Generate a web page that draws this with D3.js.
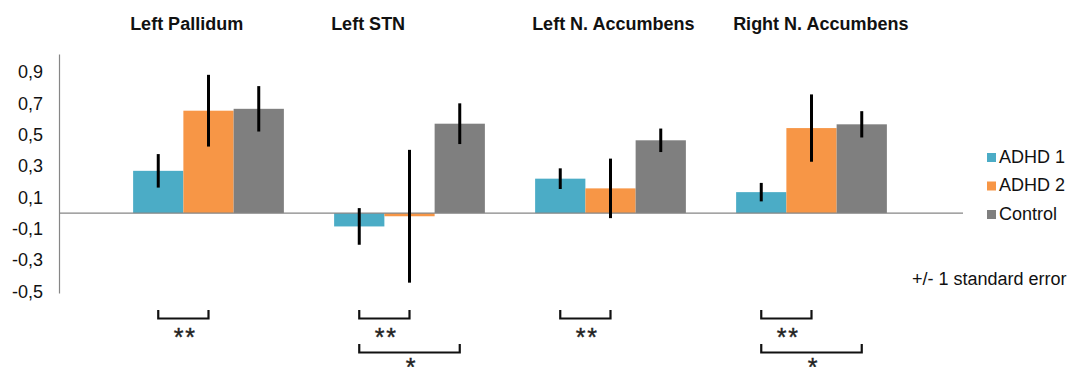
<!DOCTYPE html>
<html>
<head>
<meta charset="utf-8">
<script src="https://cdn.jsdelivr.net/npm/d3@7"></script>
<style>
  body { margin: 0; background: #fff; }
  svg { display: block; font-family: "Liberation Sans", Arial, sans-serif; }
</style>
</head>
<body>
<svg id="chart" width="1070" height="367"></svg>
<script>
// data
var regions = ["Left Pallidum", "Left STN", "Left N. Accumbens", "Right N. Accumbens"];
var groups = ["ADHD 1", "ADHD 2", "Control"];
var adhd1 = [0.27, -0.085, 0.22, 0.134];
var adhd2 = [0.654, -0.02, 0.158, 0.543];
var control = [0.666, 0.571, 0.465, 0.567];
var adhd1Se = [0.107, 0.117, 0.066, 0.059];
var adhd2Se = [0.229, 0.424, 0.19, 0.215];
var controlSe = [0.145, 0.13, 0.075, 0.084];
var yTicks = [-0.5, -0.3, -0.1, 0.1, 0.3, 0.5, 0.7, 0.9];
// significance brackets: region, from group, to group, stars, row
var sigRegion = ["Left Pallidum", "Left STN", "Left STN", "Left N. Accumbens", "Right N. Accumbens", "Right N. Accumbens"];
var sigFrom = ["ADHD 1", "ADHD 1", "ADHD 1", "ADHD 1", "ADHD 1", "ADHD 1"];
var sigTo = ["ADHD 2", "ADHD 2", "Control", "ADHD 2", "ADHD 2", "Control"];
var sigLabel = ["**", "**", "*", "**", "**", "*"];
var sigRow = [0, 0, 1, 0, 0, 1];

var colors = {"ADHD 1": "#4BACC6", "ADHD 2": "#F79646", "Control": "#7F7F7F"};
var values = {"ADHD 1": adhd1, "ADHD 2": adhd2, "Control": control};
var errors = {"ADHD 1": adhd1Se, "ADHD 2": adhd2Se, "Control": controlSe};

var svg = d3.select("#chart");

var x = d3.scaleBand().domain(regions).range([108, 912])
  .paddingInner(0.25).paddingOuter(0.125);
var xs = d3.scaleBand().domain(groups).range([0, x.bandwidth()]);
var y = d3.scaleLinear().domain([-0.51, 1.016]).range([293, 54]);

var rows = [];
regions.forEach(function(r, i) {
  groups.forEach(function(g) {
    rows.push({region: r, group: g, value: values[g][i], se: errors[g][i]});
  });
});

// bars
svg.append("g").selectAll("rect")
  .data(rows)
  .enter().append("rect")
  .attr("x", function(d) { return x(d.region) + xs(d.group); })
  .attr("width", xs.bandwidth())
  .attr("y", function(d) { return y(Math.max(0, d.value)); })
  .attr("height", function(d) { return Math.abs(y(d.value) - y(0)); })
  .attr("fill", function(d) { return colors[d.group]; });

// zero line
svg.append("line")
  .attr("x1", 59).attr("x2", 963)
  .attr("y1", y(0)).attr("y2", y(0))
  .attr("stroke", "#868686").attr("stroke-width", 1.2);

// y axis
var yAxis = d3.axisLeft(y).tickValues(yTicks).tickSize(0).tickPadding(16)
  .tickFormat(function(d) { return d3.format(".1f")(d).replace(".", ",").replace("−", "-"); });
var ya = svg.append("g").attr("transform", "translate(59,0)").call(yAxis);
ya.select(".domain").attr("stroke", "#868686").attr("stroke-width", 1.2);
ya.selectAll("text").attr("font-size", 18).attr("fill", "#111")
  .attr("font-family", "Liberation Sans, Arial, sans-serif");

// error bars
svg.append("g").selectAll("line")
  .data(rows)
  .enter().append("line")
  .attr("x1", function(d) { return x(d.region) + xs(d.group) + xs.bandwidth() / 2; })
  .attr("x2", function(d) { return x(d.region) + xs(d.group) + xs.bandwidth() / 2; })
  .attr("y1", function(d) { return y(d.value + d.se); })
  .attr("y2", function(d) { return y(d.value - d.se); })
  .attr("stroke", "#000").attr("stroke-width", 3);

// region titles
svg.append("g").selectAll("text")
  .data(regions)
  .enter().append("text")
  .attr("x", function(d) { return x(d) - 3; })
  .attr("y", 30)
  .attr("font-size", 18).attr("font-weight", "bold").attr("fill", "#111")
  .text(function(d) { return d; });

// significance brackets
var sigs = sigRegion.map(function(r, i) {
  return {region: r, from: sigFrom[i], to: sigTo[i], label: sigLabel[i], row: sigRow[i]};
});
var cx = function(r, g) { return x(r) + xs(g) + xs.bandwidth() / 2; };
var sg = svg.append("g").selectAll("g").data(sigs).enter().append("g")
  .attr("transform", function(d) { return "translate(0," + (d.row * 34) + ")"; });
sg.append("path")
  .attr("d", function(d) {
    var a = cx(d.region, d.from), b = cx(d.region, d.to);
    return "M" + a + ",310V318.5H" + b + "V310";
  })
  .attr("fill", "none").attr("stroke", "#111").attr("stroke-width", 2.2);
sg.append("text")
  .attr("x", function(d) { return (cx(d.region, d.from) + cx(d.region, d.to)) / 2 + 2; })
  .attr("y", function(d) { return 346 - d.row * 4; })
  .attr("text-anchor", "middle")
  .attr("font-size", 25).attr("letter-spacing", 2).attr("fill", "#222")
  .attr("stroke", "#222").attr("stroke-width", 0.4)
  .text(function(d) { return d.label; });

// legend
var lg = svg.append("g").selectAll("g").data(groups).enter().append("g")
  .attr("transform", function(d, i) { return "translate(987," + (153 + i * 28.5) + ")"; });
lg.append("rect").attr("width", 9).attr("height", 9)
  .attr("fill", function(d) { return colors[d]; });
lg.append("text").attr("x", 12).attr("y", 9.5)
  .attr("font-size", 18).attr("fill", "#111")
  .text(function(d) { return d; });

svg.append("text")
  .attr("x", 912).attr("y", 285)
  .attr("font-size", 18).attr("fill", "#111")
  .text("+/- 1 standard error");
</script>
</body>
</html>
